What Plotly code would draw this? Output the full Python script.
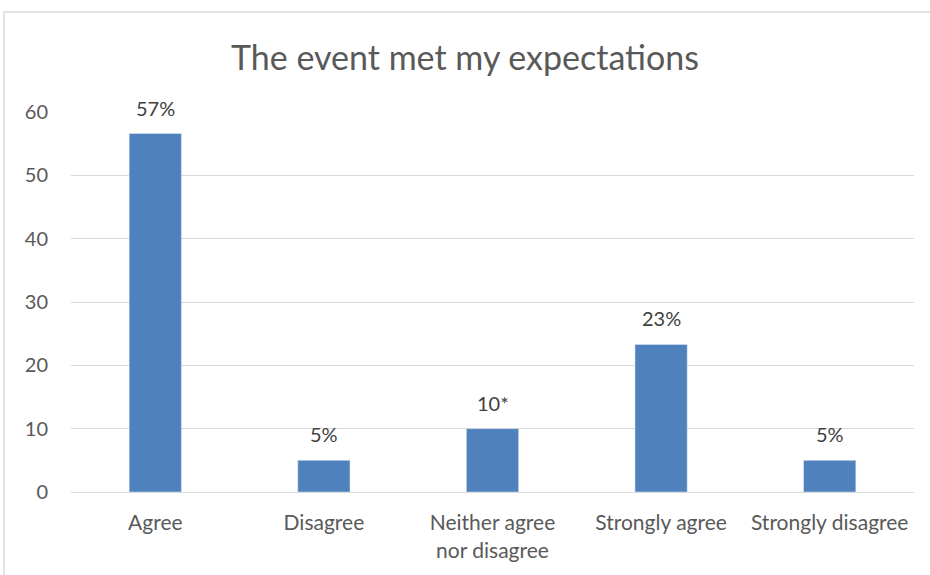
import plotly.graph_objects as go

categories = ["Agree", "Disagree", "Neither agree<br>nor disagree", "Strongly agree", "Strongly disagree"]
values = [56.6, 5, 10, 23.3, 5]
labels = ["57%", "5%", "10*", "23%", "5%"]
y_ticks = [0, 10, 20, 30, 40, 50, 60]

L, R, T, B = 71, 16, 112, 83
W, H = 930, 575
pw, ph = W - L - R, H - T - B

def px_x(p):
    return (p - L) / pw

def px_y(p):
    return (H - B - p) / ph

fig = go.Figure(go.Bar(
    x=categories, y=values, marker_color="#4f81bd", cliponaxis=False,
))
for c, v, t in zip(categories, values, labels):
    fig.add_annotation(x=c, y=v, text=t, showarrow=False, yanchor="bottom",
                       yshift=12, font=dict(size=20, color="#404040"))
fig.update_layout(
    width=W, height=H,
    margin=dict(l=L, r=R, t=T, b=B, autoexpand=False),
    paper_bgcolor="white", plot_bgcolor="white",
    font=dict(family="Lato, Open Sans, sans-serif", color="#595959", size=20),
    title=dict(text="The event met my expectations", x=0.5, xanchor="center",
               y=1 - 58 / H, yanchor="middle",
               font=dict(size=34, color="#595959")),
    bargap=0.69,
    showlegend=False,
    xaxis=dict(showgrid=False, showline=True, linecolor="#d9d9d9", linewidth=1,
               ticks="", tickfont=dict(size=21, color="#595959"),
               ticklabelstandoff=12, automargin=False),
    yaxis=dict(range=[0, 60], tickvals=y_ticks, showgrid=True, gridcolor="#d9d9d9",
               gridwidth=1, zeroline=False, showline=False, ticks="",
               tickfont=dict(size=20, color="#595959"), ticklabelstandoff=22,
               automargin=False),
    shapes=[dict(type="rect", xref="paper", yref="paper",
                 x0=px_x(4), x1=px_x(940), y0=px_y(590), y1=px_y(12),
                 line=dict(color="#d9d9d9", width=1.5), layer="below")],
)
fig.write_html("out.html")
